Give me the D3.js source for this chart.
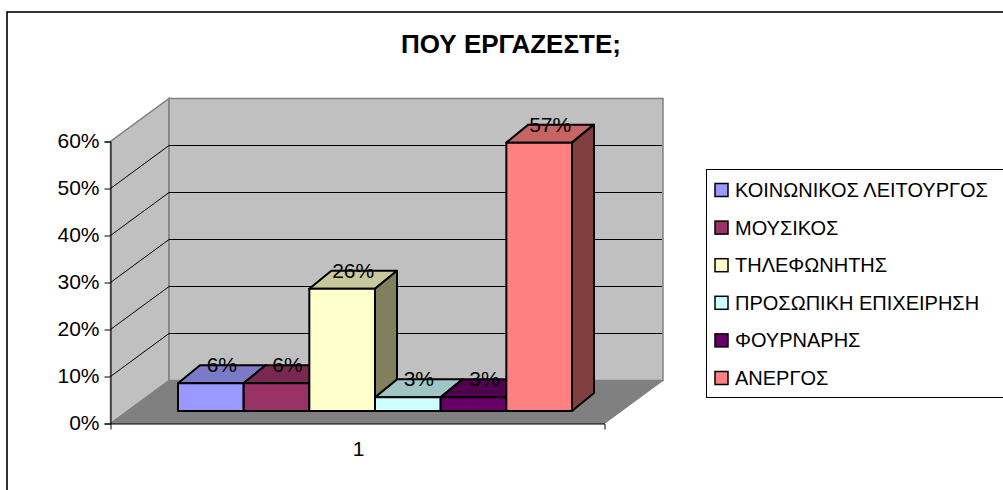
<!DOCTYPE html>
<html>
<head>
<meta charset="utf-8">
<script src="https://cdn.jsdelivr.net/npm/d3@7"></script>
<style>
    html, body { margin: 0; padding: 0; background: #fff; }
    svg { display: block; }
    text { font-family: "Liberation Sans", Arial, sans-serif; fill: #000; }
</style>
</head>
<body>
<div id="chart"></div>
<script>
// Data
const categories = ["ΚΟΙΝΩΝΙΚΟΣ ΛΕΙΤΟΥΡΓΟΣ", "ΜΟΥΣΙΚΟΣ", "ΤΗΛΕΦΩΝΗΤΗΣ", "ΠΡΟΣΩΠΙΚΗ ΕΠΙΧΕΙΡΗΣΗ", "ΦΟΥΡΝΑΡΗΣ", "ΑΝΕΡΓΟΣ"];
const values = [0.059, 0.059, 0.26, 0.029, 0.029, 0.571];
const colors = ["#9999ff", "#993366", "#ffffcc", "#ccffff", "#660066", "#ff8080"];
const topColors = ["#7a7ac6", "#78294f", "#c8c89f", "#9fc6c4", "#4f004f", "#c76464"];
const sideColors = ["#60608f", "#5f203f", "#80805f", "#80a0a0", "#400040", "#804040"];
const yTicks = [0, 0.1, 0.2, 0.3, 0.4, 0.5, 0.6];
const gridTicks = [0.1, 0.2, 0.3, 0.4, 0.5];
const xLabel = "1";
const title = "ΠΟΥ ΕΡΓΑΖΕΣΤΕ;";

const width = 1003;
const height = 490;

const svg = d3.select("#chart")
    .append("svg")
    .attr("width", width)
    .attr("height", height);

// outer chart border, runs off the right and bottom of the picture
svg.append("rect")
    .attr("x", 7)
    .attr("y", 12)
    .attr("width", 1010)
    .attr("height", 500)
    .attr("fill", "#fff")
    .attr("stroke", "#000")
    .attr("stroke-width", 1.6);

// Scales
const y = d3.scaleLinear().domain([0, 0.6]).range([423.5, 141.5]);
const xFront = d3.scaleBand().domain(["1"]).range([110.5, 604.5]);
const x = d3.scaleBand().domain(categories).range([178, 572]);

// offsets of the 3D box
const wallDx = 58.5, wallDy = -43;
const barDx = 22, barDy = -18;
const baseLift = 12.5;   // bars stand a bit behind the front edge of the floor

const left = xFront.range()[0], right = xFront.range()[1];
const poly = pts => pts.map(p => p.join(",")).join(" ");

// side wall
svg.append("polygon")
    .attr("points", poly([[left, y(0)], [left + wallDx, y(0) + wallDy], [left + wallDx, y(0.6) + wallDy], [left, y(0.6)]]))
    .attr("fill", "#c0c0c0")
    .attr("stroke", "#808080")
    .attr("stroke-width", 1.5);

// back wall
svg.append("rect")
    .attr("x", left + wallDx)
    .attr("y", y(0.6) + wallDy)
    .attr("width", right - left)
    .attr("height", y(0) - y(0.6))
    .attr("fill", "#c0c0c0")
    .attr("stroke", "#808080")
    .attr("stroke-width", 1.5);

// floor
svg.append("polygon")
    .attr("points", poly([[left, y(0)], [right, y(0)], [right + wallDx, y(0) + wallDy], [left + wallDx, y(0) + wallDy]]))
    .attr("fill", "#808080")
    .attr("stroke", "#808080");

// gridlines
const grid = svg.append("g");
gridTicks.forEach(function(d) {
    grid.append("line")
        .attr("x1", left).attr("y1", y(d))
        .attr("x2", left + wallDx).attr("y2", y(d) + wallDy)
        .attr("stroke", "#000");
    grid.append("line")
        .attr("x1", left + wallDx).attr("y1", y(d) + wallDy)
        .attr("x2", right + wallDx - 1).attr("y2", y(d) + wallDy)
        .attr("stroke", "#000");
});

// y axis
const yAxis = d3.axisLeft(y)
    .tickValues(yTicks)
    .tickFormat(d3.format(".0%"))
    .tickSize(6)
    .tickPadding(5);

const yG = svg.append("g")
    .attr("transform", `translate(${left},0)`)
    .call(yAxis);
yG.selectAll("text").attr("font-size", 21).attr("dy", "0.28em");
yG.selectAll("line,path").attr("stroke", "#000");

// x axis
const xAxis = d3.axisBottom(xFront)
    .tickValues([])
    .tickSizeOuter(6);
const xG = svg.append("g")
    .attr("transform", `translate(0,${y(0)})`)
    .call(xAxis);
xG.selectAll("path").attr("stroke", "#000");

svg.append("text")
    .attr("x", xFront(xLabel) + xFront.bandwidth() / 2 + 1)
    .attr("y", 456)
    .attr("text-anchor", "middle")
    .attr("font-size", 21)
    .text(xLabel);

// Bars, drawn left to right so neighbours overlap like the original
const bars = svg.append("g")
    .selectAll("g")
    .data(categories)
    .enter()
    .append("g")
    .attr("stroke", "#000")
    .attr("stroke-width", 2)
    .attr("stroke-linejoin", "round");

const base = y(0) - baseLift;
const barH = i => y(0) - y(values[i]);

bars.append("polygon")
    .attr("points", function(d, i) {
        const x0 = x(d), x1 = x0 + x.bandwidth(), t = base - barH(i);
        return poly([[x0, t], [x0 + barDx, t + barDy], [x1 + barDx, t + barDy], [x1, t]]);
    })
    .attr("fill", (d, i) => topColors[i]);

bars.append("polygon")
    .attr("points", function(d, i) {
        const x1 = x(d) + x.bandwidth(), t = base - barH(i);
        return poly([[x1, t], [x1 + barDx, t + barDy], [x1 + barDx, base + barDy], [x1, base]]);
    })
    .attr("fill", (d, i) => sideColors[i]);

bars.append("rect")
    .attr("x", d => x(d))
    .attr("y", (d, i) => base - barH(i))
    .attr("width", x.bandwidth())
    .attr("height", (d, i) => barH(i))
    .attr("fill", (d, i) => colors[i]);

// value labels
svg.append("g")
    .selectAll("text")
    .data(categories)
    .enter()
    .append("text")
    .attr("x", d => x(d) + x.bandwidth() / 2 + 11)
    .attr("y", (d, i) => base - barH(i) + barDy + 7)
    .attr("text-anchor", "middle")
    .attr("font-size", 21)
    .text((d, i) => d3.format(".0%")(values[i]));

// title
svg.append("text")
    .attr("x", 511)
    .attr("y", 53)
    .attr("text-anchor", "middle")
    .attr("font-size", 26)
    .attr("font-weight", "bold")
    .text(title);

// Legend
const legendY = d3.scalePoint().domain(categories).range([190, 378]);

svg.append("rect")
    .attr("x", 706.5)
    .attr("y", 169.5)
    .attr("width", 310)
    .attr("height", 228)
    .attr("fill", "#fff")
    .attr("stroke", "#000");

const legend = svg.append("g")
    .selectAll("g")
    .data(categories)
    .enter()
    .append("g")
    .attr("transform", d => `translate(0,${legendY(d)})`);

legend.append("rect")
    .attr("x", 715)
    .attr("y", -6.5)
    .attr("width", 13)
    .attr("height", 13)
    .attr("fill", (d, i) => colors[i])
    .attr("stroke", "#000")
    .attr("stroke-width", 1.5);

legend.append("text")
    .attr("x", 735)
    .attr("y", 7)
    .attr("font-size", 20)
    .text(d => d);
</script>
</body>
</html>
